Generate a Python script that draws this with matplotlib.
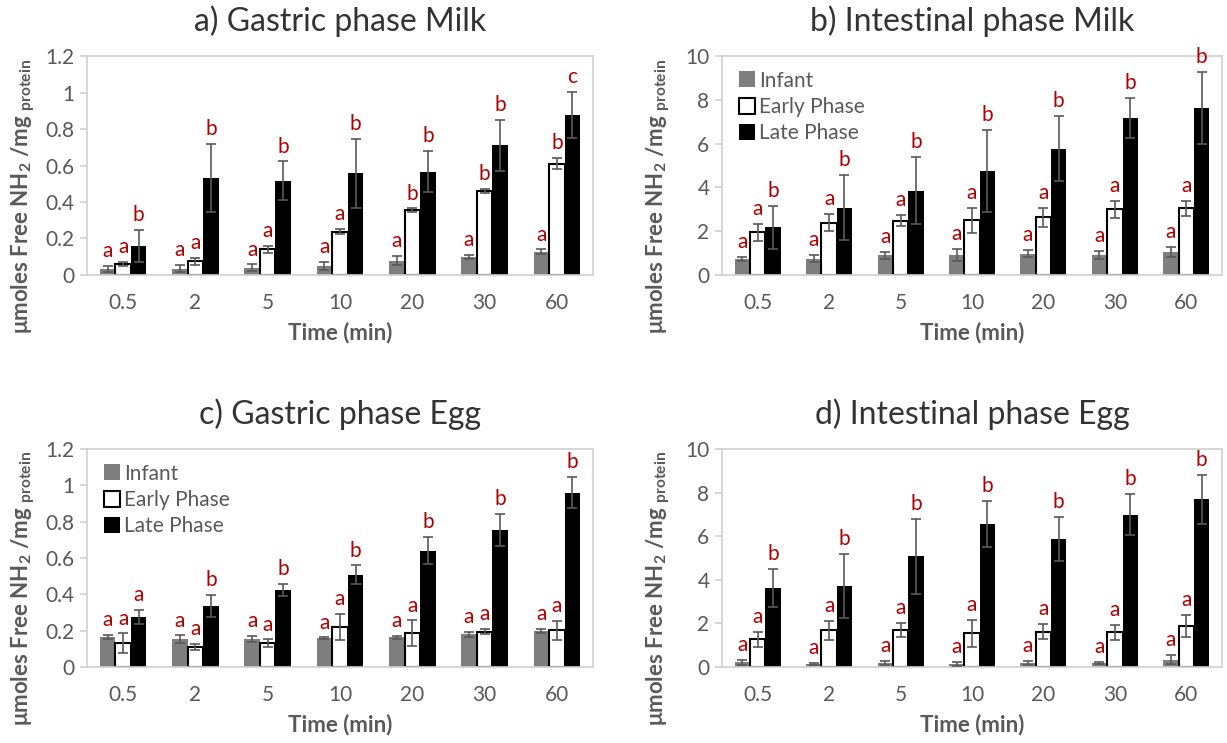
import matplotlib
matplotlib.use("Agg")
import matplotlib.pyplot as plt
import numpy as np
from matplotlib.lines import Line2D

plt.rcParams['font.family'] = ['Lato', 'DejaVu Sans']
plt.rcParams['mathtext.fontset'] = 'custom'
plt.rcParams['mathtext.bf'] = 'Lato:bold'
plt.rcParams['mathtext.rm'] = 'Lato'

times = ["0.5", "2", "5", "10", "20", "30", "60"]
series_names = ["Infant", "Early Phase", "Late Phase"]

# a) Gastric phase Milk
a_inf = [0.033, 0.035, 0.04, 0.05, 0.078, 0.10, 0.128]
a_inf_err = [0.015, 0.02, 0.018, 0.02, 0.025, 0.012, 0.012]
a_early = [0.06, 0.075, 0.14, 0.237, 0.355, 0.46, 0.61]
a_early_err = [0.01, 0.02, 0.02, 0.015, 0.01, 0.01, 0.03]
a_late = [0.157, 0.531, 0.516, 0.557, 0.567, 0.71, 0.878]
a_late_err = [0.088, 0.186, 0.106, 0.19, 0.113, 0.139, 0.126]
a_letters = [list("aaaaaaa"), list("aaaabbb"), list("bbbbbbc")]

# b) Intestinal phase Milk
b_inf = [0.73, 0.75, 0.9, 0.9, 0.98, 0.9, 1.05]
b_inf_err = [0.1, 0.15, 0.15, 0.28, 0.15, 0.18, 0.22]
b_early = [1.95, 2.39, 2.48, 2.5, 2.63, 3.0, 3.05]
b_early_err = [0.38, 0.38, 0.25, 0.57, 0.45, 0.4, 0.35]
b_late = [2.17, 3.07, 3.85, 4.74, 5.76, 7.17, 7.63]
b_late_err = [1.0, 1.49, 1.53, 1.87, 1.49, 0.93, 1.66]
b_letters = [list("aaaaaaa"), list("aaaaaaa"), list("bbbbbbb")]

# c) Gastric phase Egg
c_inf = [0.165, 0.154, 0.154, 0.158, 0.163, 0.179, 0.197]
c_inf_err = [0.01, 0.02, 0.015, 0.005, 0.01, 0.012, 0.012]
c_early = [0.13, 0.11, 0.132, 0.221, 0.186, 0.194, 0.201]
c_early_err = [0.055, 0.015, 0.02, 0.07, 0.07, 0.015, 0.053]
c_late = [0.274, 0.335, 0.424, 0.508, 0.64, 0.753, 0.96]
c_late_err = [0.04, 0.06, 0.031, 0.051, 0.075, 0.088, 0.086]
c_letters = [list("aaaaaaa"), list("aaaaaaa"), list("abbbbbb")]

# d) Intestinal phase Egg
d_inf = [0.21, 0.15, 0.17, 0.13, 0.17, 0.2, 0.34]
d_inf_err = [0.1, 0.05, 0.1, 0.1, 0.1, 0.05, 0.22]
d_early = [1.27, 1.69, 1.69, 1.54, 1.62, 1.59, 1.88]
d_early_err = [0.35, 0.43, 0.32, 0.61, 0.35, 0.33, 0.5]
d_late = [3.62, 3.71, 5.08, 6.56, 5.86, 6.99, 7.69]
d_late_err = [0.88, 1.47, 1.71, 1.04, 1.02, 0.93, 1.13]
d_letters = [list("aaaaaaa"), list("aaaaaaa"), list("bbbbbbb")]

TXT = '#595959'
RED = '#B00000'
FRAME = '#d0d0d0'

fig = plt.figure(figsize=(12.27, 7.43), dpi=100)

panels = [
    ("a) Gastric phase Milk", [0.0709, 0.6299, 0.4124, 0.2947],
     (a_inf, a_early, a_late), (a_inf_err, a_early_err, a_late_err), a_letters,
     1.2, np.arange(0, 1.21, 0.2), False),
    ("b) Intestinal phase Milk", [0.5884, 0.6299, 0.4075, 0.2947],
     (b_inf, b_early, b_late), (b_inf_err, b_early_err, b_late_err), b_letters,
     10, np.arange(0, 10.1, 2), True),
    ("c) Gastric phase Egg", [0.0709, 0.1023, 0.4124, 0.2934],
     (c_inf, c_early, c_late), (c_inf_err, c_early_err, c_late_err), c_letters,
     1.2, np.arange(0, 1.21, 0.2), True),
    ("d) Intestinal phase Egg", [0.5884, 0.1023, 0.4075, 0.2934],
     (d_inf, d_early, d_late), (d_inf_err, d_early_err, d_late_err), d_letters,
     10, np.arange(0, 10.1, 2), False),
]

colors = ['#7f7f7f', 'white', 'black']
edges = ['#7f7f7f', 'black', 'black']
lws = [0, 1.5, 0]
bw = 0.215
offsets = [-bw, 0, bw]

for title, pos, vals, errs, letters, ymax, yticks, show_leg in panels:
    ax = fig.add_axes(pos)
    x = np.arange(len(times))
    for i in range(3):
        ax.bar(x + offsets[i], vals[i], width=bw, color=colors[i], edgecolor=edges[i],
               linewidth=lws[i], yerr=errs[i], zorder=2,
               error_kw=dict(ecolor='#595959', elinewidth=1.2, capsize=3.5, capthick=1.2, zorder=3))
        for j in range(len(times)):
            ax.annotate(letters[i][j], xy=(x[j] + offsets[i], vals[i][j] + errs[i][j]),
                        xytext=(0, 3.5), textcoords='offset points', ha='center', va='bottom',
                        color=RED, fontsize=15, annotation_clip=False)
    ax.set_xlim(-0.5, len(times) - 0.5)
    ax.set_ylim(0, ymax)
    ax.set_xticks(x)
    ax.set_xticklabels(times)
    ax.set_yticks(yticks)
    ax.set_yticklabels([f"{v:g}" for v in yticks])
    ax.tick_params(axis='x', length=0, labelsize=15, labelcolor=TXT, pad=13)
    ax.tick_params(axis='y', length=5, width=1.2, color=FRAME, direction='out',
                   labelsize=15, labelcolor=TXT, pad=4)
    for s in ax.spines.values():
        s.set_color(FRAME)
        s.set_linewidth(1.2)
    ax.set_title(title, fontsize=23, color='#333333', pad=18)
    ax.set_xlabel("Time (min)", fontsize=16, fontweight='bold', color=TXT, labelpad=6)
    ax.set_ylabel(r"μmoles Free NH$\mathbf{_2}$ /mg $\mathbf{_{protein}}$", fontsize=16,
                  fontweight='bold', color=TXT)
    ax.yaxis.set_label_coords(-0.099, 0.36)
    if show_leg:
        handles = [Line2D([], [], marker='s', linestyle='none', markersize=11,
                          markerfacecolor=colors[k], markeredgecolor=edges[k] if k else colors[k],
                          markeredgewidth=1.5 if k == 1 else 0) for k in range(3)]
        leg = ax.legend(handles, series_names, loc='upper left', frameon=False, fontsize=15,
                        handletextpad=0.1, labelspacing=0.3, borderaxespad=0.3,
                        handlelength=1.0, bbox_to_anchor=(0.0, 1.0))
        for t in leg.get_texts():
            t.set_color(TXT)

fig.savefig("out.png", dpi=100)
